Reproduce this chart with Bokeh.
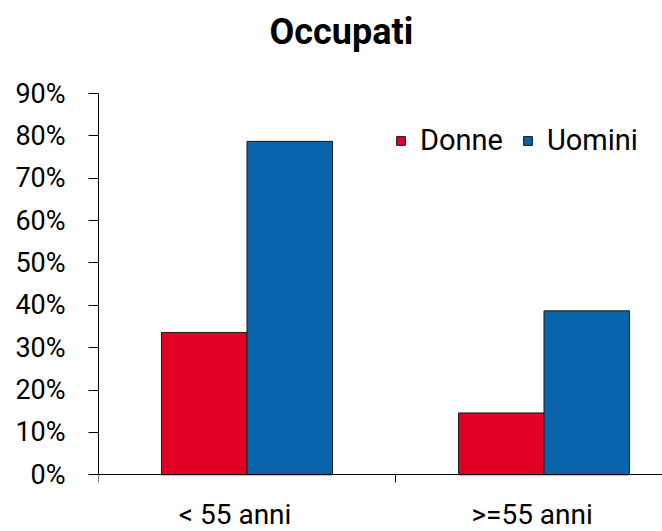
from bokeh.plotting import figure
from bokeh.models import (Range1d, FixedTicker, PrintfTickFormatter, Legend, LegendItem,
                          ColumnDataSource, Title)
from bokeh.transform import dodge
from bokeh.embed import file_html
from bokeh.resources import INLINE

categories = ["< 55 anni", ">=55 anni"]
donne = [33.6, 14.6]
uomini = [78.7, 38.7]
y_ticks = [0, 10, 20, 30, 40, 50, 60, 70, 80, 90]

RED = "#E10024"
BLUE = "#0A64AC"
FONT = "Roboto"

cx = [i + 0.5 for i in range(len(categories))]
src = ColumnDataSource(dict(x=cx, donne=donne, uomini=uomini))

# frame runs down to the canvas bottom so the category labels under y=0 stay visible
p = figure(width=662, height=531, output_backend="svg", toolbar_location=None,
           x_range=Range1d(0, 1.899), y_range=Range1d(-13.39, 90),
           min_border_left=98, min_border_right=0, min_border_top=93, min_border_bottom=0)
p.outline_line_color = None
p.xgrid.visible = False
p.ygrid.visible = False

# spacer closest to the frame, then the title above it
spacer = Title(text=" ", text_font_size="1px", standoff=38)
p.add_layout(spacer, "above")
t = Title(text="Occupati", align="left", offset=171, text_font=FONT, text_font_size="36px",
          text_font_style="bold", text_color="black", standoff=0)
p.add_layout(t, "above")

r1 = p.vbar(x=dodge("x", -0.144), width=0.288, bottom=0, top="donne", source=src,
            fill_color=RED, line_color="#1a1a1a", line_width=1)
r2 = p.vbar(x=dodge("x", 0.144), width=0.288, bottom=0, top="uomini", source=src,
            fill_color=BLUE, line_color="#1a1a1a", line_width=1)

# y axis
ya = p.yaxis[0]
ya.bounds = (0, 90)
ya.ticker = FixedTicker(ticks=y_ticks, minor_ticks=[])
ya.formatter = PrintfTickFormatter(format="%d%%")
ya.major_tick_out = 10
ya.major_tick_in = 0
ya.major_label_standoff = 23
ya.major_label_text_font = FONT
ya.major_label_text_font_size = "27px"
ya.major_label_text_color = "black"
ya.axis_line_color = "black"
ya.major_tick_line_color = "black"

# x axis at y=0: category labels, separator ticks between categories
label_pos = [c - 0.04 for c in cx]
xa = p.xaxis[0]
xa.fixed_location = 0
xa.ticker = FixedTicker(ticks=label_pos, minor_ticks=[0, 1, 2])
xa.major_label_overrides = {pos: lab for pos, lab in zip(label_pos, categories)}
xa.major_tick_line_color = None
xa.major_tick_out = 0
xa.major_tick_in = 0
xa.minor_tick_out = 8
xa.minor_tick_in = 0
xa.minor_tick_line_color = "black"
xa.axis_line_color = "black"
xa.major_label_standoff = 15
xa.major_label_text_font = FONT
xa.major_label_text_font_size = "28px"
xa.major_label_text_color = "black"

legend = Legend(items=[LegendItem(label="Donne", renderers=[r1]),
                       LegendItem(label="Uomini", renderers=[r2])],
                orientation="horizontal", location=(297, 374),
                glyph_width=11, glyph_height=11, label_standoff=14, spacing=19,
                padding=0, margin=0, border_line_color=None, background_fill_alpha=0,
                label_text_font=FONT, label_text_font_size="29px", label_text_color="black",
                label_width=10)
p.add_layout(legend, "center")

open("out.html", "w").write(file_html(p, INLINE))
